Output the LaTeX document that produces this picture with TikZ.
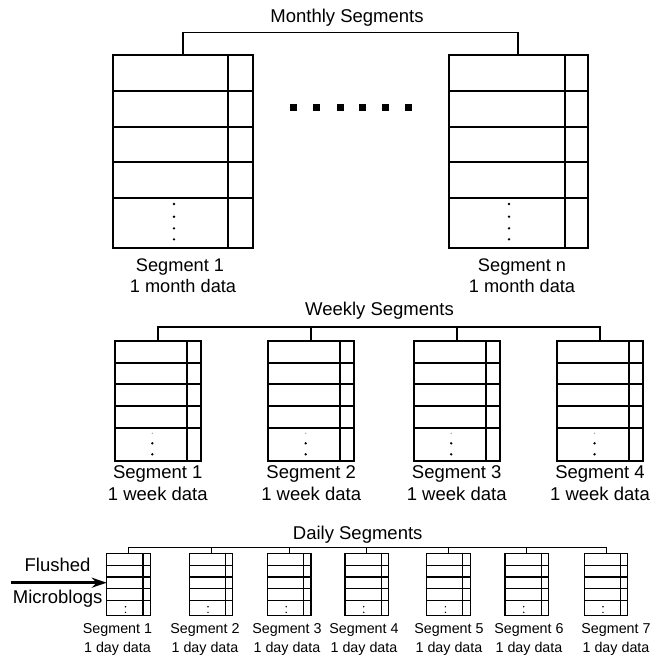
\documentclass[tikz,border=0pt]{standalone}
\usepackage{fontspec}
\setmainfont{Liberation Sans}
\usetikzlibrary{arrows.meta}
\newcommand{\segbox}[8]{%
  % #1 name, #2 center x, #3 top y, #4 width, #5 height, #6 column width, #7 row height, #8 line width
  \node[draw, line width=#8, minimum width=#4pt, minimum height=#5pt, inner sep=0pt, outer sep=0pt, anchor=north] (#1) at (#2,#3) {};
  \draw[line width=#8] ([xshift=-#6pt]#1.north east) -- ([xshift=-#6pt]#1.south east);
  \foreach \k in {1,...,4}{\draw[line width=#8] ([yshift=-\k*#7pt]#1.north west) -- ([yshift=-\k*#7pt]#1.north east);}
}
\tikzset{
  bus/.style={line width=1.6pt},
  dbus/.style={line width=1pt},
  dotm/.style={fill=black, circle, inner sep=0pt, minimum size=2.6pt},
  dotd/.style={fill=black, circle, inner sep=0pt, minimum size=1.6pt},
  sq/.style={fill=black, inner sep=0pt, minimum size=7pt},
  big/.style={font=\fontsize{18.5}{22}\selectfont, inner sep=0pt, anchor=base},
  mlab/.style={font=\fontsize{18.2}{22}\selectfont, inner sep=0pt, anchor=base},
  dlab/.style={font=\fontsize{14.3}{17}\selectfont, inner sep=0pt, anchor=base},
}
\begin{document}
\begin{tikzpicture}[x=1pt,y=-1pt]
\useasboundingbox (0,0) rectangle (662,656);
% ---------------- Monthly
\node[big] (mt) at (347,22.7) {Monthly Segments};
\segbox{m1}{183}{55}{140}{193}{25}{35.8}{2pt}
\segbox{mn}{518}{55}{139}{193}{23}{35.8}{2pt}
\draw[bus] (m1.north) -- (m1.north |- 0,32.3) -- (mn.north |- 0,32.3) -- (mn.north);
\foreach \n in {m1,mn}{
  \foreach \yy [count=\i] in {204,216.7,228.3,239.3}{
    \node[dotm] (\n dot\i) at ([xshift=-9pt]\n.north |- 0,\yy) {};
  }
}
\foreach \xx [count=\i] in {293.3,316.7,340,362,385,408.3}{
  \node[sq] (sq\i) at (\xx,107) {};
}
\node[mlab] (m1a) at (180,271.7) {Segment 1};
\node[mlab] (m1b) at (183,292.7) {1 month data};
\node[mlab] (mna) at (522,271.7) {Segment n};
\node[mlab] (mnb) at (522,292.7) {1 month data};
% ---------------- Weekly
\node[big] (wt) at (379.5,315.7) {Weekly Segments};
\foreach \cx [count=\i] in {157.8,311.2,456.7,600}{
  \segbox{w\i}{\cx}{340.7}{86}{120}{14}{21.8}{2pt}
  \node[dotd, fill=black!35] (w\i d1) at ([xshift=-5.5pt]w\i.north |- 0,433.3) {};
  \node[dotm] (w\i d2) at ([xshift=-5.5pt]w\i.north |- 0,443.3) {};
  \node[dotm] (w\i d3) at ([xshift=-5.5pt]w\i.north |- 0,454.3) {};
  \node[big] (w\i a) at (\cx,478) {Segment \i};
  \node[big] (w\i b) at (\cx,500) {1 week data};
}
\draw[bus] (w1.north) -- (w1.north |- 0,327) -- (w4.north |- 0,327) -- (w4.north);
\draw[bus] (w2.north) -- (w2.north |- 0,327);
\draw[bus] (w3.north) -- (w3.north |- 0,327);
% ---------------- Daily
\node[big] (dt) at (357.7,539) {Daily Segments};
\foreach \cx/\lx [count=\i] in {128.5/117.5,211/205,289.2/287,366.7/364,448.4/449,526.7/529,606/616}{
  \segbox{d\i}{\cx}{553.3}{43.5}{62.5}{7.3}{11.8}{1.2pt}
  \node[dotd] (d\i d1) at ([xshift=-3pt]d\i.north |- 0,606.7) {};
  \node[dotd] (d\i d2) at ([xshift=-3pt]d\i.north |- 0,612.3) {};
  \node[dlab] (d\i a) at (\lx,633.3) {Segment \i};
  \node[dlab] (d\i b) at (\lx,652.7) {1 day data};
}
\draw[dbus] (d1.north) -- (d1.north |- 0,547) -- (d7.north |- 0,547) -- (d7.north);
\foreach \i in {2,...,6}{\draw[dbus] (d\i.north) -- (d\i.north |- 0,547);}
% ---------------- Flushed microblogs
\node[big] (fl) at (57.5,571.7) {Flushed};
\node[big] (mb) at (57.7,603.3) {Microblogs};
\coordinate (src) at (11,582.7);
\draw[line width=2.6pt, -{Stealth[length=15pt,width=10pt]}] (src) -- (src -| d1.west);
\end{tikzpicture}
\end{document}
